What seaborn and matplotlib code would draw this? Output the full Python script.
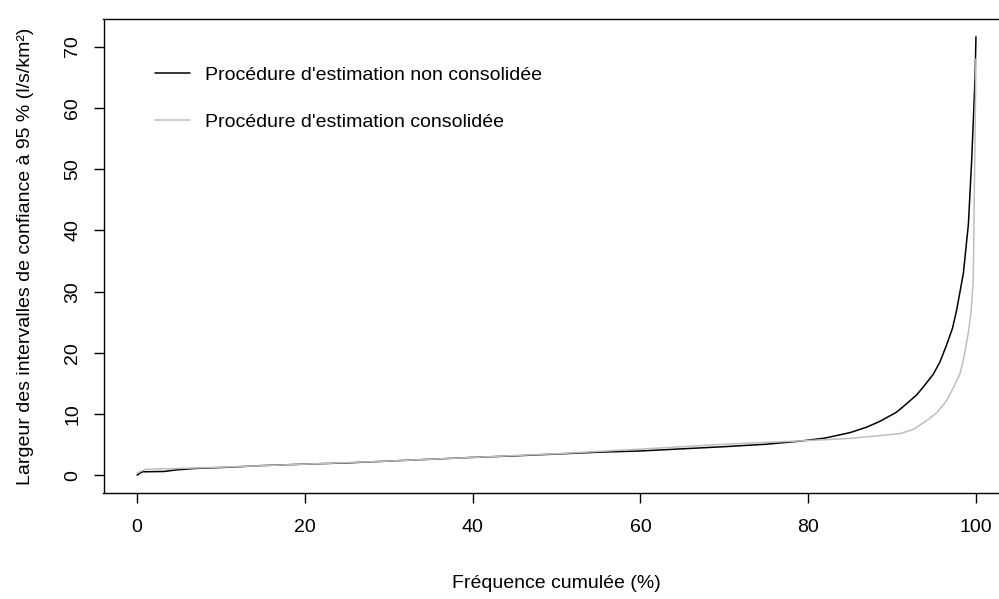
import matplotlib
matplotlib.use("Agg")
import matplotlib.pyplot as plt
import seaborn as sns
import pandas as pd

# Cumulative frequency (%) and 95% CI width (l/s/km²)
freq_non_consolidee = [0, 0.6, 3.2, 4.6, 7, 11, 14.6, 20, 25, 30, 35, 40, 45, 50, 55, 60,
                       65, 70, 75, 79, 82, 85, 87, 88.5, 90.5, 91.3, 92.9, 93.7, 94.9,
                       95.7, 96.5, 97.2, 97.7, 98.5, 99.1, 99.5, 99.76, 99.9, 100]
largeur_non_consolidee = [0.05, 0.6, 0.65, 0.9, 1.15, 1.35, 1.6, 1.85, 2.05, 2.35, 2.65, 2.95,
                          3.2, 3.5, 3.8, 4.0, 4.35, 4.7, 5.1, 5.6, 6.1, 7.0, 7.9, 8.8, 10.3,
                          11.2, 13.1, 14.4, 16.5, 18.5, 21.3, 24.0, 27.0, 33.0, 41.0, 51.7,
                          60.4, 65.0, 71.6]

freq_consolidee = [0, 1, 5, 10, 15, 20, 30, 40, 50, 60, 65, 70, 75, 80, 85, 88.5, 91, 92.5,
                   93.3, 94.5, 95.5, 96.5, 97.3, 98.1, 98.6, 99.1, 99.4, 99.56, 99.68,
                   99.85, 100]
largeur_consolidee = [0.4, 1.0, 1.15, 1.35, 1.6, 1.85, 2.35, 2.95, 3.55, 4.3, 4.7, 5.1, 5.4,
                      5.7, 6.05, 6.5, 6.85, 7.5, 8.2, 9.3, 10.5, 12.2, 14.3, 16.6, 19.5,
                      23.4, 26.5, 29.5, 32.0, 50.5, 68.0]

label_non = "Procédure d'estimation non consolidée"
label_con = "Procédure d'estimation consolidée"

df = pd.concat([
    pd.DataFrame({"freq": freq_non_consolidee, "largeur": largeur_non_consolidee, "proc": label_non}),
    pd.DataFrame({"freq": freq_consolidee, "largeur": largeur_consolidee, "proc": label_con}),
], ignore_index=True)

sns.set_theme(style="ticks")
plt.rcParams["font.family"] = ["Liberation Sans", "DejaVu Sans"]
plt.rcParams["text.color"] = "black"

FS = 14
fig = plt.figure(figsize=(9.99, 5.99), dpi=100)
W, H = 999, 599
left, right, top, bottom = 103.5, 1009.5, 19, 493
ax = fig.add_axes([left / W, (H - bottom) / H, (right - left) / W, (bottom - top) / H])

sns.lineplot(data=df, x="freq", y="largeur", hue="proc",
             palette={label_non: "black", label_con: "#bebebe"},
             estimator=None, sort=True, linewidth=1.1, ax=ax)

ax.set_xlim(-4, 104)
ax.set_ylim(-2.86, 74.5)
ax.set_xticks([0, 20, 40, 60, 80, 100])
ax.set_yticks([0, 10, 20, 30, 40, 50, 60, 70])
ax.tick_params(axis="both", direction="out", length=7, width=1, color="black",
               labelsize=FS, labelcolor="black")
ax.tick_params(axis="x", pad=12)
ax.tick_params(axis="y", pad=9)
for lab in ax.get_yticklabels():
    lab.set_rotation(90)
    lab.set_va("center")
for s in ax.spines.values():
    s.set_visible(True)
    s.set_color("black")
    s.set_linewidth(1)

ax.set_xlabel("Fréquence cumulée (%)", fontsize=FS, labelpad=28, color="black")
ax.set_ylabel("Largeur des intervalles de confiance à 95 % (l/s/km²)", fontsize=FS,
              labelpad=22, color="black")

leg = ax.legend(loc="upper left", bbox_to_anchor=(0.0568, 0.9007), frameon=False,
                fontsize=FS, handlelength=1.8, handletextpad=0.77, labelspacing=1.52,
                borderpad=0, borderaxespad=0)
for line in leg.get_lines():
    line.set_linewidth(1.1)

fig.savefig("out.png", dpi=100)
